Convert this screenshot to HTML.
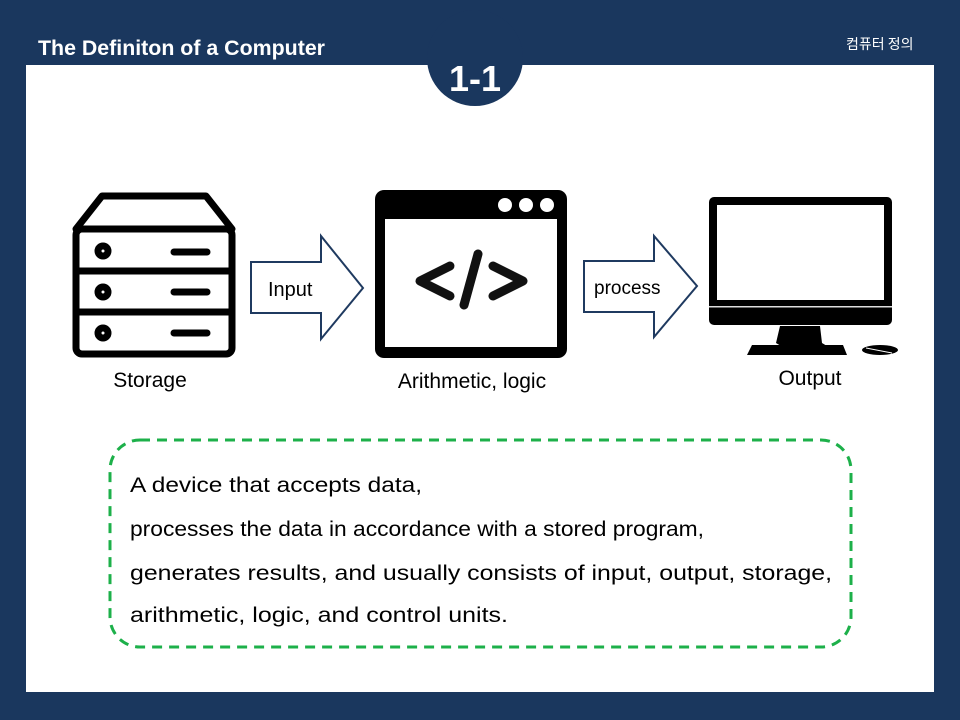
<!DOCTYPE html>
<html><head><meta charset="utf-8"><style>
html,body{margin:0;padding:0;background:#1a375e;}
svg{display:block}
</style></head><body>
<svg width="960" height="720" viewBox="0 0 960 720" xmlns="http://www.w3.org/2000/svg" font-family="Liberation Sans, Noto Sans CJK KR, sans-serif">
<rect width="960" height="720" fill="#1a375e"/>
<rect x="26" y="65" width="908" height="627" fill="#fff"/>
<text x="38" y="55" fill="#fff" font-size="21" font-weight="bold" textLength="287" lengthAdjust="spacingAndGlyphs">The Definiton of  a Computer</text>
<text x="846" y="49" fill="#fff" font-size="14" font-family="Noto Sans CJK KR, sans-serif">컴퓨터 정의</text>
<circle cx="475" cy="58" r="48" fill="#1a375e"/>
<text x="475" y="91" fill="#fff" font-size="36" font-weight="bold" text-anchor="middle">1-1</text>

<!-- storage -->
<g fill="none" stroke="#000" stroke-width="7" stroke-linejoin="round">
<path d="M76 229 L102 196 L206 196 L232 229 Z"/>
<rect x="76" y="229" width="156" height="125" rx="6"/>
<line x1="76" y1="271" x2="232" y2="271"/>
<line x1="76" y1="312" x2="232" y2="312"/>
<circle cx="103" cy="251" r="5"/><circle cx="103" cy="292" r="5"/><circle cx="103" cy="333" r="5"/>
<g stroke-linecap="round"><line x1="174" y1="252" x2="207" y2="252"/><line x1="174" y1="292" x2="207" y2="292"/><line x1="174" y1="333" x2="207" y2="333"/></g>
</g>
<text x="150" y="387" font-size="21" text-anchor="middle">Storage</text>

<!-- arrow1 -->
<path d="M251 262 L321 262 L321 236 L363 288 L321 339 L321 313 L251 313 Z" fill="#fff" stroke="#1f3a60" stroke-width="2"/>
<text x="268" y="296" font-size="20">Input</text>

<!-- window -->
<rect x="375" y="190" width="192" height="168" rx="9" fill="#000"/>
<rect x="385" y="219" width="172" height="128" fill="#fff"/>
<circle cx="505" cy="205" r="7" fill="#fff"/><circle cx="526" cy="205" r="7" fill="#fff"/><circle cx="547" cy="205" r="7" fill="#fff"/>
<g fill="none" stroke="#111" stroke-width="9" stroke-linecap="round" stroke-linejoin="round">
<polyline points="450,266 420,281 450,296"/>
<polyline points="493,266 523,281 493,296"/>
<line x1="478" y1="254" x2="464" y2="305"/>
</g>
<text x="472" y="388" font-size="21" text-anchor="middle">Arithmetic, logic</text>

<!-- arrow2 -->
<path d="M584 261 L654 261 L654 236 L697 286 L654 337 L654 312 L584 312 Z" fill="#fff" stroke="#1f3a60" stroke-width="2"/>
<text x="594" y="294" font-size="19">process</text>

<!-- monitor -->
<rect x="709" y="197" width="183" height="128" rx="5" fill="#000"/>
<rect x="717" y="205" width="167" height="95" fill="#fff"/>
<rect x="709" y="306" width="183" height="1.5" fill="#ddd"/>
<path d="M780 326 L820 326 L822 343 L827 346 L781 346 L776 343 Z" fill="#000"/>
<path d="M752 345 L843 345 L847 355 L747 355 Z" fill="#000"/>
<ellipse cx="880" cy="350" rx="18" ry="5" fill="#000"/>
<path d="M866 348 L892 353" stroke="#fff" stroke-width="1"/>
<text x="810" y="385" font-size="21" text-anchor="middle">Output</text>

<!-- dashed box -->
<rect x="110" y="440" width="741" height="207" rx="30" fill="none" stroke="#1db04a" stroke-width="3" stroke-dasharray="10 7"/>
<g font-size="21" fill="#000">
<text x="130" y="492" textLength="292" lengthAdjust="spacingAndGlyphs">A device that accepts data,</text>
<text x="130" y="536" textLength="574" lengthAdjust="spacingAndGlyphs">processes the data in accordance with a stored program,</text>
<text x="130" y="580" textLength="702" lengthAdjust="spacingAndGlyphs">generates results, and usually consists of  input, output, storage,</text>
<text x="130" y="622" textLength="378" lengthAdjust="spacingAndGlyphs">arithmetic, logic, and control units.</text>
</g>
</svg>
</body></html>
